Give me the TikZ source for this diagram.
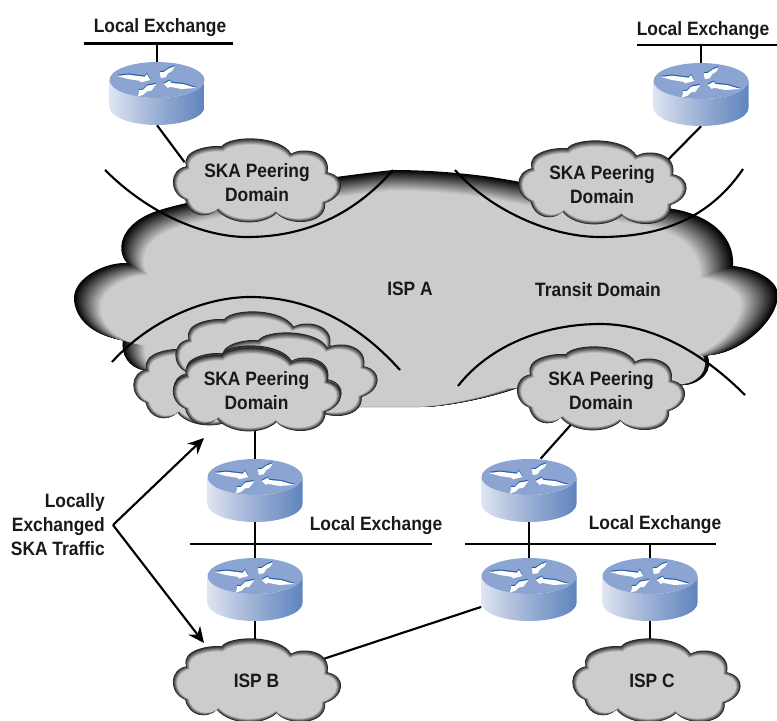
\documentclass[tikz,border=0pt]{standalone}
\usepackage{fontspec}
\setmainfont[FakeStretch=0.9]{Liberation Sans}
\usetikzlibrary{arrows.meta,shapes.geometric}
\definecolor{cloudgray}{HTML}{CCCCCC}
\definecolor{rtop}{HTML}{8CA4D2}
\definecolor{rblue}{HTML}{2A5FA8}
\definecolor{ra}{RGB}{111,144,198}
\definecolor{rb}{RGB}{127,156,204}
\definecolor{rc}{RGB}{200,211,232}
\definecolor{rd}{RGB}{223,229,242}
\definecolor{re}{RGB}{181,195,223}
\definecolor{rf}{RGB}{142,166,208}
\definecolor{rg}{RGB}{95,133,189}
\definecolor{rh}{RGB}{37,96,168}
\pgfdeclarehorizontalshading{routerbody}{100bp}{
  color(0bp)=(ra);
  color(10bp)=(rb);
  color(18bp)=(rc);
  color(25bp)=(rd);
  color(40bp)=(re);
  color(55bp)=(rf);
  color(75bp)=(rg);
  color(100bp)=(rh)}
\pgfdeclarelayer{wire}
\pgfdeclarelayer{art}
\pgfsetlayers{wire,art,main}
\tikzset{
  lbl/.style={font=\bfseries\fontsize{14.5}{18}\selectfont,inner sep=0pt,text=black!90},
  basel/.style={lbl,anchor=base},
  basee/.style={lbl,anchor=base east},
  cloudbox/.style={lbl,shape=ellipse,minimum width=125pt,minimum height=62pt,align=center},
  routerbox/.style={shape=rectangle,minimum width=71.25pt,minimum height=47.25pt,inner sep=0pt},
  wireline/.style={line width=1.6pt,black},
  arcline/.style={line width=1.6pt,black},
  bigarrow/.style={line width=1.6pt,black,-{Stealth[length=12pt,width=11pt,inset=4pt]}},
}
\newcommand{\cloudoutline}{(-70.3,-13.7) .. controls (-76.3,-30.3) and (-46.3,-35.3) .. (-35,-33.7)
  .. controls (-26.3,-45.3) and (23.7,-45.3) .. (34.7,-26.3)
  .. controls (47,-33.7) and (75.3,-28.7) .. (71,-7.7)
  .. controls (90.3,-3.7) and (88.7,16.3) .. (68.7,23)
  .. controls (70.3,46.3) and (30.3,46.3) .. (20.3,33)
  .. controls (7,46) and (-26.3,46) .. (-39.7,29.7)
  .. controls (-49.7,39.7) and (-68,36.3) .. (-71.3,19.7)
  .. controls (-88,13) and (-88,-10.3) .. (-70.3,-13.7) -- cycle}
\newcommand{\cloudart}[2]{%
  \foreach \i in {0,...,10}{%
    \pgfmathsetmacro{\sx}{1-0.0055*\i}%
    \pgfmathsetmacro{\sy}{1-0.012*\i}%
    \pgfmathsetmacro{\pc}{15+8.5*\i}%
    \fill[cloudgray!\pc!black,shift={(#1,#2+12)},xscale=\sx,yscale=\sy,shift={(0,-12)}] \cloudoutline;
  }}
\newcommand{\bigoutline}{(123,340) .. controls (88,335) and (74,315) .. (74,298)
  .. controls (74,278) and (105,262) .. (127,263)
  .. controls (115,250) and (120,222) .. (160,210)
  .. controls (190,200) and (300,180) .. (393,170)
  .. controls (420,170) and (470,172) .. (520,182)
  -- (667,208)
  .. controls (700,212) and (735,230) .. (733,266)
  .. controls (755,268) and (778,280) .. (778,295)
  .. controls (778,320) and (740,355) .. (707,355)
  .. controls (715,370) and (700,385) .. (683,385)
  -- (520,387)
  .. controls (500,395) and (450,407) .. (420,407)
  -- (357,407)
  .. controls (300,407) and (180,380) .. (143,370)
  .. controls (130,368) and (120,355) .. (123,340) -- cycle}
\newcommand{\routerart}[2]{%
  \begin{scope}[shift={(#1,#2)}]
    \path[shading=routerbody] (-47.5,0) -- (-47.5,27) arc[start angle=180,end angle=0,x radius=47.5,y radius=18] -- (47.5,0) arc[start angle=0,end angle=180,x radius=47.5,y radius=18] -- cycle;
    \fill[rtop] (0,0) ellipse[x radius=47.5,y radius=18];
    \begin{scope}[yshift=0.9pt]
      \fill[rblue] (-40,-4) -- (-29,-5.3) -- (-12.3,-3.3) -- (-10,-6) -- (-6.7,0) -- (-15.7,2.3) -- (-18,.7) -- (-29,-1) -- cycle;
      \fill[rblue] (17.7,-13.7) -- (15.3,-9.3) -- (11,-6.7) -- (8.7,-2.7) -- (3.7,-2) -- (2.7,-7.7) -- (6.7,-8) -- (12,-11.7) -- cycle;
      \fill[rblue] (-19,16.3) -- (-18,10) -- (-14,10) -- (-10,5.7) -- (-0.7,4) -- (-5.7,10.7) -- (-10,11.3) -- (-14,15) -- cycle;
      \fill[rblue] (6.7,4) -- (12.7,.7) -- (14.3,3) -- (26,4) -- (39.3,8) -- (24.3,9) -- (12.7,6.7) -- (11,8) -- cycle;
    \end{scope}
    \fill[white] (-40,-4) -- (-29,-5.3) -- (-12.3,-3.3) -- (-10,-6) -- (-6.7,0) -- (-15.7,2.3) -- (-18,.7) -- (-29,-1) -- cycle;
    \fill[white] (17.7,-13.7) -- (15.3,-9.3) -- (11,-6.7) -- (8.7,-2.7) -- (3.7,-2) -- (2.7,-7.7) -- (6.7,-8) -- (12,-11.7) -- cycle;
    \fill[white] (-19,16.3) -- (-18,10) -- (-14,10) -- (-10,5.7) -- (-0.7,4) -- (-5.7,10.7) -- (-10,11.3) -- (-14,15) -- cycle;
    \fill[white] (6.7,4) -- (12.7,.7) -- (14.3,3) -- (26,4) -- (39.3,8) -- (24.3,9) -- (12.7,6.7) -- (11,8) -- cycle;
  \end{scope}}
\begin{document}
\begin{tikzpicture}[x=0.75pt,y=-0.75pt]
\useasboundingbox (0,0) rectangle (777,720);
% named nodes
\node[routerbox] (r1) at (157,93.5) {};
\node[routerbox] (r2) at (701,94.5) {};
\node[routerbox] (r3) at (255,490.5) {};
\node[routerbox] (r4) at (255,589.5) {};
\node[routerbox] (r5) at (529,490.5) {};
\node[routerbox] (r6) at (529,589.5) {};
\node[routerbox] (r7) at (650,589.5) {};
\node[cloudbox] (skaTL) at (257,183) {SKA Peering\\Domain};
\node[cloudbox] (skaTR) at (602,185) {SKA Peering\\Domain};
\node[cloudbox] (skaBL) at (256.5,391) {SKA Peering\\Domain};
\node[cloudbox] (skaBR) at (601,391) {SKA Peering\\Domain};
\node[cloudbox] (ispB) at (256.5,681) {ISP B};
\node[cloudbox] (ispC) at (652,681) {ISP C};
\node[basel] (ispA) at (410,295) {ISP A};
\node[basel] (transit) at (598,296) {Transit Domain};
\node[basel] (leTL) at (160,33) {Local Exchange};
\node[basel] (leTR) at (703,35.5) {Local Exchange};
\node[basel] (leML) at (376,530) {Local Exchange};
\node[basel] (leMR) at (655,529.5) {Local Exchange};
\node[basee] (tr1) at (105,507) {Locally};
\node[basee] (tr2) at (105,531) {Exchanged};
\node[basee] (tr3) at (105,555) {SKA Traffic};
\coordinate (tip) at (113,525);
\coordinate (arrowUp) at (204,438);
\coordinate (arrowDown) at (204,643);
\coordinate (busTLa) at (84,43.5);
\coordinate (busTLb) at (233,43.5);
\coordinate (busTRa) at (637,45);
\coordinate (busTRb) at (777,45);
\coordinate (busMLa) at (190,543.7);
\coordinate (busMLb) at (432,543.7);
\coordinate (busMRa) at (465,543.7);
\coordinate (busMRb) at (716,543.7);
% art
\begin{pgfonlayer}{art}
  \foreach \i in {0,...,30}{%
    \pgfmathsetmacro{\s}{1-0.003*\i}%
    \pgfmathsetmacro{\pc}{100*\i/30}%
    \fill[cloudgray!\pc!black,shift={(370,400)},scale=\s,shift={(-370,-400)}] \bigoutline;
  }
  \fill[cloudgray] (630,345) -- (703,356) .. controls (710,370) and (697,383) .. (683,384) -- (610,386) -- cycle;
  \draw[arcline] (105,170) .. controls (150,215) and (205,237) .. (247,237) .. controls (290,237) and (345,225) .. (393,170);
  \draw[arcline] (112,362) .. controls (150,320) and (205,297) .. (250,297) .. controls (305,297) and (355,320) .. (400,370);
  \draw[arcline] (455,170) .. controls (490,210) and (550,237) .. (600,237) .. controls (650,237) and (705,225) .. (743,169);
  \draw[arcline] (458,386) .. controls (490,345) and (545,324) .. (600,324) .. controls (650,324) and (700,350) .. (745,395);
  \cloudart{217}{383}
  \cloudart{259}{353}
  \cloudart{293}{374}
  \cloudart{257}{387}
  \cloudart{256.5}{180}
  \cloudart{602}{182}
  \cloudart{256.5}{389}
  \cloudart{600.5}{388}
  \cloudart{256.5}{680}
  \cloudart{656}{680}
  \routerart{157}{80}
  \routerart{701}{81}
  \routerart{255}{477}
  \routerart{255}{576}
  \routerart{529}{477}
  \routerart{529}{576}
  \routerart{650}{576}
\end{pgfonlayer}
% connectors
\begin{pgfonlayer}{wire}
  \draw[wireline] (busTLa) -- (busTLb);
  \draw[wireline] (busTRa) -- (busTRb);
  \draw[wireline] (busMLa) -- (busMLb);
  \draw[wireline] (busMRa) -- (busMRb);
  \draw[wireline] (r1.north) -- (r1.north |- busTLa);
  \draw[wireline] (r2.north) -- (r2.north |- busTRa);
  \draw[wireline] (r1.south) -- (skaTL.164);
  \draw[wireline] (r2.south) -- (skaTR.21);
  \draw[wireline] (r3.north) -- (r3.north |- skaBL.center);
  \draw[wireline] (r3.south) -- (r4.north);
  \draw[wireline] (r4.south) -- (r4.south |- ispB.center);
  \draw[wireline] (skaBR.center) -- (r5.70);
  \draw[wireline] (r5.south) -- (r6.north);
  \draw[wireline] (r7.north) -- (r7.north |- busMRa);
  \draw[wireline] (r7.south) -- (r7.south |- ispC.center);
  \draw[wireline] (r6.200) -- (ispB.center);
\end{pgfonlayer}
\draw[bigarrow] (tip) -- (arrowUp);
\draw[bigarrow] (tip) -- (arrowDown);
\end{tikzpicture}
\end{document}
